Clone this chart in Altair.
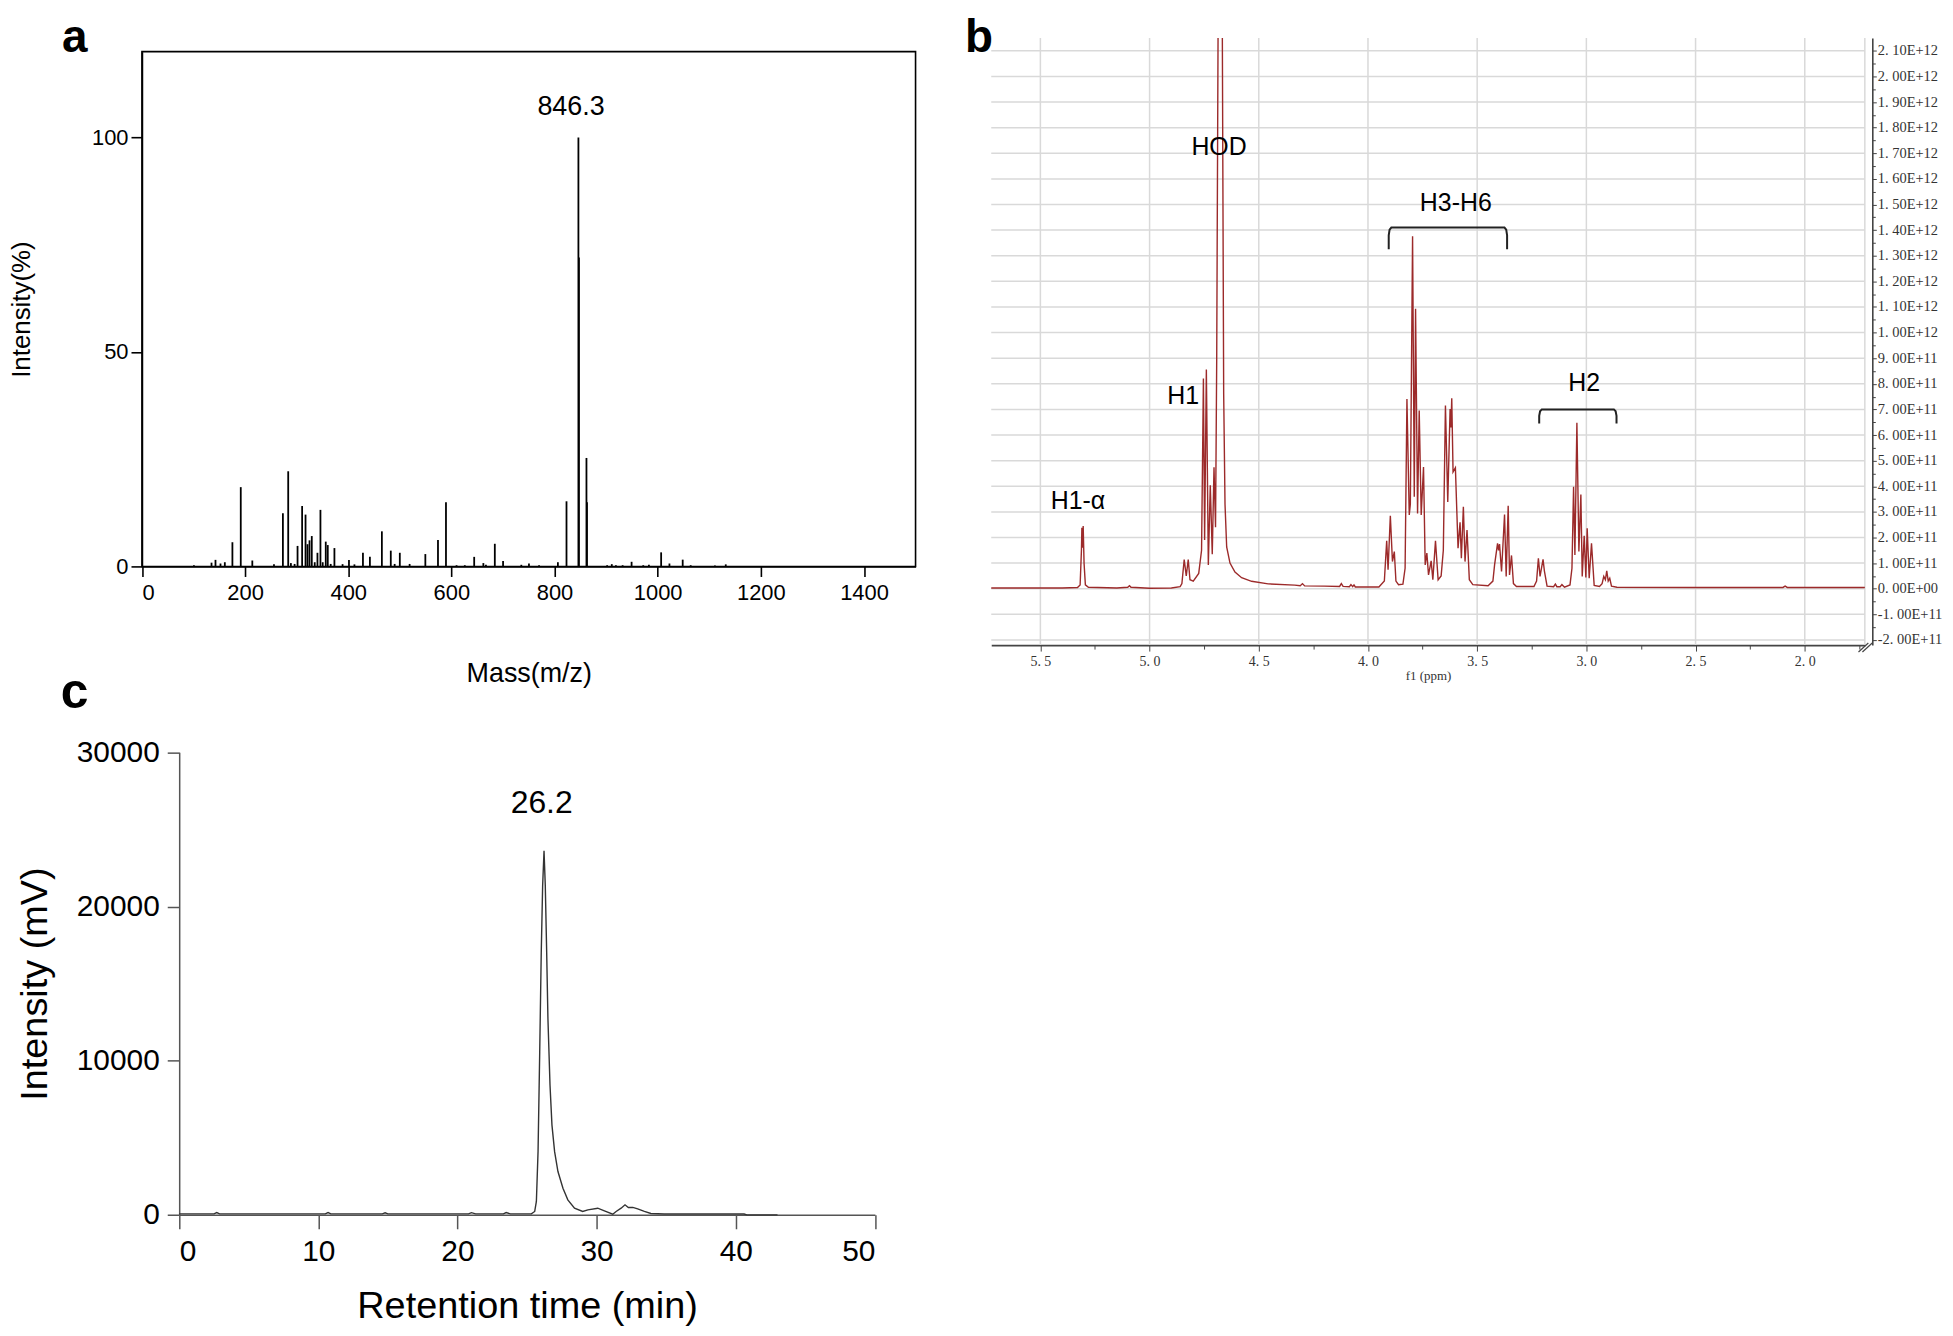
import altair as alt
import pandas as pd

W, H = 1945, 1318
SANS = "Liberation Sans, Arial, Helvetica, sans-serif"
SERIF = "Liberation Serif, Times New Roman, serif"

# ---------------- panel a : mass spectrum ----------------
MS_MZ = [100.8, 134.9, 142.6, 152.3, 160.7, 175.4, 191.6, 214, 256, 273.3, 283.6, 288.8, 296,
         301.7, 310.6, 317.2, 321, 324.9, 329.3, 335, 340.3, 346.1, 350.5, 356.4, 360.3, 366,
         373.2, 389, 401.4, 412, 428.5, 442, 465.2, 482.5, 490, 500, 519, 549.5, 574, 589.5,
         610, 626, 644.2, 662, 667, 684.2, 700.2, 735.6, 750.4, 770, 806.5, 823.2, 846.3,
         847.3, 861.9, 862.9, 902, 911, 919, 932, 949.4, 972, 983, 1006.7, 1022.8, 1048.5,
         1064, 1111, 1132]
MS_INT = [0.3, 0.9, 1.55, 0.7, 1.0, 5.66, 18.5, 1.4, 0.55, 12.4, 22.2, 0.8, 0.6,
          4.8, 14.1, 12.1, 5.2, 6.1, 7.1, 1.0, 3.2, 13.2, 1.0, 5.8, 5.0, 0.6,
          4.3, 0.55, 1.5, 0.5, 3.2, 2.25, 8.2, 3.7, 0.6, 3.2, 0.6, 2.9, 6.2, 15.0,
          0.3, 0.3, 2.25, 0.8, 0.4, 5.3, 1.3, 0.4, 0.7, 0.3, 1.0, 15.2, 100,
          72, 25.3, 15, 0.3, 0.55, 0.3, 0.3, 1.1, 0.3, 0.4, 3.3, 0.7, 1.6,
          0.3, 0.25, 0.5]
MS_X_DOMAIN = [0, 1500]
MS_Y_DOMAIN = [0, 120]
MS_X_TICKS = [0, 200, 400, 600, 800, 1000, 1200, 1400]
MS_Y_TICKS = [0, 50, 100]
MS_PEAK_LABEL = ["846.3"]
MS_PEAK_LABEL_X = [832]
MS_PEAK_LABEL_Y = [107]

# ---------------- panel b : 1H NMR (intensity in units of 1E+11) ----------------
NMR_L_PPM = [5.725, 5.40, 5.33, 5.318, 5.312, 5.310, 5.307, 5.304, 5.300, 5.294, 5.28, 5.15,
             5.10, 5.092, 5.085, 5.0, 4.90, 4.86, 4.852, 4.8415, 4.832, 4.823, 4.815, 4.80,
             4.775, 4.762, 4.7535, 4.748, 4.740, 4.731, 4.722, 4.713, 4.705, 4.698, 4.6926,
             4.6865]
NMR_L_INT = [0.03, 0.03, 0.05, 0.15, 1.5, 2.38, 1.6, 2.45, 1.0, 0.15, 0.06, 0.03,
             0.06, 0.12, 0.06, 0.02, 0.03, 0.08, 0.2, 1.14, 0.5, 1.14, 0.35, 0.3,
             0.6, 1.5, 8.21, 1.9, 8.56, 0.93, 4.04, 1.35, 4.74, 2.4, 9.0,
             21.5]
NMR_R_PPM = [4.6668, 4.6607, 4.6546, 4.647, 4.6318, 4.609, 4.5786, 4.533, 4.457, 4.3354,
             4.31, 4.30, 4.29, 4.20, 4.13, 4.122, 4.114, 4.085, 4.078, 4.07, 4.064, 4.058,
             3.95, 3.925, 3.9143, 3.908, 3.8976, 3.888, 3.8794, 3.872, 3.86, 3.84, 3.830,
             3.8216, 3.811, 3.806, 3.7958, 3.788, 3.7821, 3.773, 3.7654, 3.7563, 3.7457,
             3.738, 3.7304, 3.7228, 3.7107, 3.703, 3.6909, 3.6788, 3.665, 3.655, 3.6453,
             3.6347, 3.624, 3.620, 3.6164, 3.6104, 3.5997, 3.5876, 3.5784, 3.5724, 3.5632,
             3.5556, 3.5465, 3.5359, 3.52, 3.45, 3.428, 3.4203, 3.4067, 3.402, 3.3976,
             3.3884, 3.3747, 3.3672, 3.358, 3.3519, 3.3428, 3.334, 3.32, 3.24, 3.228,
             3.2197, 3.2121, 3.1984, 3.1923, 3.18, 3.15, 3.142, 3.135, 3.12, 3.112, 3.10,
             3.075, 3.066, 3.0586, 3.0525, 3.0434, 3.0343, 3.0252, 3.019, 3.010, 3.0024,
             2.9963, 2.9871, 2.9765, 2.9643, 2.94, 2.928, 2.9203, 2.913, 2.9067, 2.900,
             2.893, 2.885, 2.86, 2.50, 2.10, 2.09, 2.08, 1.725]
NMR_R_INT = [21.5, 7.6, 3.3, 1.63, 1.0, 0.65, 0.43, 0.29, 0.19, 0.14,
             0.12, 0.2, 0.11, 0.1, 0.09, 0.2, 0.09, 0.08, 0.16, 0.08, 0.15, 0.07,
             0.07, 0.3, 1.87, 0.74, 2.85, 1.06, 1.45, 0.3, 0.16, 0.18, 0.8,
             7.41, 2.88, 3.3, 13.76, 3.59, 10.93, 2.94, 6.96, 2.88, 4.75,
             0.93, 1.39, 0.54, 1.09, 0.35, 1.87, 0.35, 0.5, 1.5, 7.15,
             3.39, 7.02, 6.3, 7.44, 4.56, 4.72, 1.58, 2.59, 1.19, 3.2,
             1.06, 2.29, 0.35, 0.16, 0.12, 0.3, 0.93, 1.77, 1.5, 1.74,
             0.67, 2.9, 0.48, 3.24, 0.54, 1.30, 0.2, 0.09, 0.09, 0.3,
             1.19, 0.48, 1.15, 0.7, 0.1, 0.08, 0.18, 0.08, 0.08, 0.16, 0.06,
             0.15, 0.8, 3.98, 1.32, 6.48, 1.45, 3.68, 0.48, 2.07, 0.44,
             2.36, 0.41, 1.77, 0.13, 0.09, 0.2, 0.48, 0.35, 0.70, 0.3,
             0.41, 0.1, 0.06, 0.05, 0.05, 0.1, 0.05, 0.05]
NMR_X_DOMAIN = [1.725, 5.725]
NMR_Y_DOMAIN = [-2.2, 21.5]
NMR_X_TICKS = [2.0, 2.5, 3.0, 3.5, 4.0, 4.5, 5.0, 5.5]
NMR_X_MINOR = [1.75, 2.25, 2.75, 3.25, 3.75, 4.25, 4.75, 5.25]
NMR_Y_TICKS = [-2, -1, 0, 1, 2, 3, 4, 5, 6, 7, 8, 9, 10, 11, 12, 13, 14, 15, 16, 17, 18, 19, 20, 21]
NMR_Y_MINOR = [-1.5, -0.5, 0.5, 1.5, 2.5, 3.5, 4.5, 5.5, 6.5, 7.5, 8.5, 9.5, 10.5, 11.5,
               12.5, 13.5, 14.5, 15.5, 16.5, 17.5, 18.5, 19.5, 20.5]
NMR_LABELS = ["H1-α", "H1", "HOD", "H3-H6", "H2"]
NMR_LABEL_PPM = [5.328, 4.846, 4.682, 3.598, 3.010]
NMR_LABEL_INT = [3.44, 7.52, 17.24, 15.04, 8.04]
BRACKET_H36_PPM = [3.905, 3.905, 3.901, 3.893, 3.375, 3.367, 3.363, 3.363]
BRACKET_H36_INT = [13.25, 13.8, 14.02, 14.1, 14.1, 14.02, 13.8, 13.25]
BRACKET_H2_PPM = [3.216, 3.216, 3.212, 3.204, 2.874, 2.866, 2.862, 2.862]
BRACKET_H2_INT = [6.45, 6.75, 6.93, 7.0, 7.0, 6.93, 6.75, 6.45]
# axis-break mark "//" at the lower right corner of the NMR frame
BREAK_PPM = [1.754, 1.736]
BREAK_PPM2 = [1.709, 1.691]
BREAK_INT = [-2.47, -2.47]
BREAK_INT2 = [-2.12, -2.12]

# ---------------- panel c : HPLC ----------------
LC_T = [0, 2.5, 2.7, 2.9, 10.5, 10.7, 10.9, 14.6, 14.8, 15.0, 20.8, 21.0, 21.3, 23.3, 23.5,
        23.8, 25.31, 25.55, 25.67, 25.79, 25.91, 26.02, 26.12, 26.22, 26.31, 26.41, 26.50,
        26.65, 26.79, 26.98, 27.22, 27.58, 27.93, 28.41, 29.0, 29.37, 30.08, 30.56, 31.16,
        31.4, 31.76, 32.04, 32.28, 32.6, 32.95, 33.43, 33.9, 34.86, 37.25, 40.6, 40.8, 43.0]
LC_I = [60, 60, 150, 60, 60, 150, 60, 60, 130, 60, 60, 140, 60, 60, 150,
        60, 60, 220, 870, 4100, 10570, 17040, 21355, 23620, 21355, 17040, 12730,
        8410, 5820, 4100, 2810, 1730, 970, 430, 220, 320, 430, 260, 40,
        220, 430, 650, 480, 480, 390, 220, 90, 50, 50, 50, 0, 0]
LC_X_DOMAIN = [0, 50]
LC_Y_DOMAIN = [0, 30000]
LC_X_TICKS = [0, 10, 20, 30, 40, 50]
LC_Y_TICKS = [0, 10000, 20000, 30000]
LC_PEAK_LABEL = ["26.2"]
LC_PEAK_LABEL_X = [26.05]
LC_PEAK_LABEL_Y = [26725]

PANEL_LETTERS = ["a", "b", "c"]

# ---------------- scales (pixel placement of each panel) ----------------
def a_x(): return alt.Scale(domain=MS_X_DOMAIN, range=[134.5, 911.3], nice=False, zero=False)
def a_y(): return alt.Scale(domain=MS_Y_DOMAIN, range=[558.1, 41.1], nice=False, zero=False)
def b_x(): return alt.Scale(domain=NMR_X_DOMAIN, range=[1864.5, 987.3], nice=False, zero=False)
def b_y(): return alt.Scale(domain=NMR_Y_DOMAIN, range=[637.0, 27.4], nice=False, zero=False)
def c_x(): return alt.Scale(domain=LC_X_DOMAIN, range=[171.9, 870.5], nice=False, zero=False)
def c_y(): return alt.Scale(domain=LC_Y_DOMAIN, range=[1209.1, 744.7], nice=False, zero=False)

layers = []

# ---- panel a ----
frame_a = pd.DataFrame({"x0": [MS_X_DOMAIN[0]], "x1": [MS_X_DOMAIN[1]],
                        "y0": [MS_Y_DOMAIN[0]], "y1": [MS_Y_DOMAIN[1]]})
layers.append(alt.Chart(frame_a).mark_rect(fillOpacity=0, stroke="black", strokeWidth=1.6).encode(
    x=alt.X("x0:Q", scale=a_x(), axis=None), x2="x1:Q",
    y=alt.Y("y0:Q", scale=a_y(), axis=None), y2="y1:Q"))

ms = pd.DataFrame({"mz": MS_MZ, "inten": MS_INT, "base": [0] * len(MS_MZ)})
layers.append(alt.Chart(ms).mark_rule(color="black", strokeWidth=1.8).encode(
    x=alt.X("mz:Q", scale=a_x(), axis=alt.Axis(
        orient="bottom", offset=558.1 - H, values=MS_X_TICKS, format="d", grid=False,
        tickSize=10, tickWidth=1.6, tickColor="black", domainColor="black", domainWidth=1.6,
        labelFont=SANS, labelFontSize=22, labelColor="black", labelPadding=6, labelOverlap=False,
        title="Mass(m/z)", titleFont=SANS, titleFontSize=27, titleFontWeight="normal",
        titleColor="black", titleY=107, titleBaseline="middle")),
    y=alt.Y("base:Q", scale=a_y(), axis=alt.Axis(
        orient="left", offset=-134.5, values=MS_Y_TICKS, format="d", grid=False,
        tickSize=11, tickWidth=1.6, tickColor="black", domainColor="black", domainWidth=1.6,
        labelFont=SANS, labelFontSize=22, labelColor="black", labelPadding=3,
        title="Intensity(%)", titleFont=SANS, titleFontSize=26, titleFontWeight="normal",
        titleColor="black", titleX=-120.5, titleAngle=270, titleBaseline="middle")),
    y2="inten:Q"))

lab_a = pd.DataFrame({"x": MS_PEAK_LABEL_X, "y": MS_PEAK_LABEL_Y, "t": MS_PEAK_LABEL})
layers.append(alt.Chart(lab_a).mark_text(font=SANS, fontSize=27, color="black",
                                         align="center", baseline="middle").encode(
    x=alt.X("x:Q", scale=a_x(), axis=None), y=alt.Y("y:Q", scale=a_y(), axis=None), text="t:N"))

let_a = pd.DataFrame({"x": [-130.3], "y": [120.0], "t": [PANEL_LETTERS[0]]})
layers.append(alt.Chart(let_a).mark_text(font=SANS, fontSize=46, fontWeight="bold", color="black",
                                         align="center", baseline="alphabetic").encode(
    x=alt.X("x:Q", scale=a_x(), axis=None), y=alt.Y("y:Q", scale=a_y(), axis=None), text="t:N"))

# ---- panel b ----
GRID = "#d9d9d9"
AX_B = "#444444"
vgrid = pd.DataFrame({"x": NMR_X_TICKS + [NMR_X_DOMAIN[0]],
                      "y0": [NMR_Y_DOMAIN[0]] * (len(NMR_X_TICKS) + 1),
                      "y1": [NMR_Y_DOMAIN[1]] * (len(NMR_X_TICKS) + 1)})
layers.append(alt.Chart(vgrid).mark_rule(color=GRID, strokeWidth=1.5).encode(
    x=alt.X("x:Q", scale=b_x(), axis=alt.Axis(
        orient="bottom", offset=637.0 - H, values=NMR_X_MINOR, labels=False, domain=False,
        grid=False, tickSize=4, tickColor=AX_B, tickWidth=1, title="")),
    y=alt.Y("y0:Q", scale=b_y(), axis=None), y2="y1:Q"))

hgrid = pd.DataFrame({"y": NMR_Y_TICKS,
                      "x0": [NMR_X_DOMAIN[0]] * len(NMR_Y_TICKS),
                      "x1": [NMR_X_DOMAIN[1]] * len(NMR_Y_TICKS)})
layers.append(alt.Chart(hgrid).mark_rule(color=GRID, strokeWidth=1.5).encode(
    y=alt.Y("y:Q", scale=b_y(), axis=alt.Axis(
        orient="right", offset=-73, values=NMR_Y_MINOR, labels=False, domain=False,
        grid=False, tickSize=3, tickColor=AX_B, tickWidth=1, title="")),
    x=alt.X("x0:Q", scale=b_x(), axis=None), x2="x1:Q"))

nmr = pd.concat([
    pd.DataFrame({"ppm": NMR_L_PPM, "inten": NMR_L_INT, "seg": "L"}),
    pd.DataFrame({"ppm": NMR_R_PPM, "inten": NMR_R_INT, "seg": "R"}),
], ignore_index=True)
nmr["i"] = range(len(nmr))

Y_LABEL_EXPR = ("datum.value == 0 ? '0. 00E+00' : (datum.value < 0 ? '-' : '') + "
                "replace(format(abs(datum.value) >= 9.5 ? abs(datum.value) / 10 : abs(datum.value), '.2f'), '.', '. ') + "
                "(abs(datum.value) >= 9.5 ? 'E+12' : 'E+11')")
X_LABEL_EXPR = "replace(format(datum.value, '.1f'), '.', '. ')"

layers.append(alt.Chart(nmr).mark_line(color="#9c2a2a", strokeWidth=1.4).encode(
    x=alt.X("ppm:Q", scale=b_x(), axis=alt.Axis(
        orient="bottom", offset=637.0 - H, values=NMR_X_TICKS, labelExpr=X_LABEL_EXPR, grid=False,
        tickSize=6, tickWidth=1, tickColor=AX_B, domainColor=AX_B, domainWidth=1.6,
        labelFont=SERIF, labelFontSize=14, labelColor="#333333", labelPadding=3, labelOverlap=False,
        title="f1 (ppm)", titleFont=SERIF, titleFontSize=13, titleFontWeight="normal",
        titleColor="#333333", titleY=31, titleBaseline="middle")),
    y=alt.Y("inten:Q", scale=b_y(), axis=alt.Axis(
        orient="right", offset=-73, values=NMR_Y_TICKS, labelExpr=Y_LABEL_EXPR, grid=False,
        tickSize=4, tickWidth=1, tickColor=AX_B, domainColor=AX_B, domainWidth=1.6,
        labelFont=SERIF, labelFontSize=14.5, labelColor="#333333", labelPadding=1, labelOverlap=False,
        title="")),
    detail="seg:N", order="i:Q"))

brk = pd.concat([
    pd.DataFrame({"ppm": BRACKET_H36_PPM, "inten": BRACKET_H36_INT, "g": "H36"}),
    pd.DataFrame({"ppm": BRACKET_H2_PPM, "inten": BRACKET_H2_INT, "g": "H2"}),
], ignore_index=True)
brk["i"] = range(len(brk))
layers.append(alt.Chart(brk).mark_line(color="#222222", strokeWidth=2).encode(
    x=alt.X("ppm:Q", scale=b_x(), axis=None), y=alt.Y("inten:Q", scale=b_y(), axis=None),
    detail="g:N", order="i:Q"))

brk_mark = pd.DataFrame({"x0": BREAK_PPM, "x1": BREAK_PPM2, "y0": BREAK_INT, "y1": BREAK_INT2})
layers.append(alt.Chart(brk_mark).mark_rule(color=AX_B, strokeWidth=1.2).encode(
    x=alt.X("x0:Q", scale=b_x(), axis=None), x2="x1:Q",
    y=alt.Y("y0:Q", scale=b_y(), axis=None), y2="y1:Q"))

lab_b = pd.DataFrame({"x": NMR_LABEL_PPM, "y": NMR_LABEL_INT, "t": NMR_LABELS})
layers.append(alt.Chart(lab_b).mark_text(font=SANS, fontSize=25, color="black",
                                         align="center", baseline="middle").encode(
    x=alt.X("x:Q", scale=b_x(), axis=None), y=alt.Y("y:Q", scale=b_y(), axis=None), text="t:N"))

let_b = pd.DataFrame({"x": [5.781], "y": [20.95], "t": [PANEL_LETTERS[1]]})
layers.append(alt.Chart(let_b).mark_text(font=SANS, fontSize=46, fontWeight="bold", color="black",
                                         align="center", baseline="alphabetic").encode(
    x=alt.X("x:Q", scale=b_x(), axis=None), y=alt.Y("y:Q", scale=b_y(), axis=None), text="t:N"))

# ---- panel c ----
AX_C = "#555555"
lc = pd.DataFrame({"t": LC_T, "inten": LC_I})
layers.append(alt.Chart(lc).mark_line(color="#333333", strokeWidth=1.4).encode(
    x=alt.X("t:Q", scale=c_x(), axis=alt.Axis(
        orient="bottom", offset=1209.1 - H, values=LC_X_TICKS, format="d", grid=False,
        tickSize=14, tickWidth=1.5, tickColor=AX_C, domainColor=AX_C, domainWidth=1.5,
        labelFont=SANS, labelFontSize=30, labelColor="black", labelPadding=8, labelOverlap=False,
        title="Retention time (min)", titleFont=SANS, titleFontSize=38, titleFontWeight="normal",
        titleColor="black", titleY=91.7, titleBaseline="middle")),
    y=alt.Y("inten:Q", scale=c_y(), axis=alt.Axis(
        orient="left", offset=-171.9, values=LC_Y_TICKS, format="d", grid=False,
        tickSize=12, tickWidth=1.5, tickColor=AX_C, domainColor=AX_C, domainWidth=1.5,
        labelFont=SANS, labelFontSize=30, labelColor="black", labelPadding=8, labelOverlap=False,
        title="Intensity (mV)", titleFont=SANS, titleFontSize=38, titleFontWeight="normal",
        titleColor="black", titleX=-143.9, titleAngle=270, titleBaseline="middle")),
    order="t:Q"))

lab_c = pd.DataFrame({"x": LC_PEAK_LABEL_X, "y": LC_PEAK_LABEL_Y, "t": LC_PEAK_LABEL})
layers.append(alt.Chart(lab_c).mark_text(font=SANS, fontSize=32, color="black",
                                         align="center", baseline="middle").encode(
    x=alt.X("x:Q", scale=c_x(), axis=None), y=alt.Y("y:Q", scale=c_y(), axis=None), text="t:N"))

let_c = pd.DataFrame({"x": [-7.52], "y": [32890], "t": [PANEL_LETTERS[2]]})
layers.append(alt.Chart(let_c).mark_text(font=SANS, fontSize=50, fontWeight="bold", color="black",
                                         align="center", baseline="alphabetic").encode(
    x=alt.X("x:Q", scale=c_x(), axis=None), y=alt.Y("y:Q", scale=c_y(), axis=None), text="t:N"))

chart = alt.layer(*layers).resolve_scale(x="independent", y="independent").properties(
    width=W, height=H, padding=0, background="white",
    autosize=alt.AutoSizeParams(type="none"),
).configure_view(strokeWidth=0)

chart.save("out.html", embed_options={"renderer": "svg", "actions": False})
